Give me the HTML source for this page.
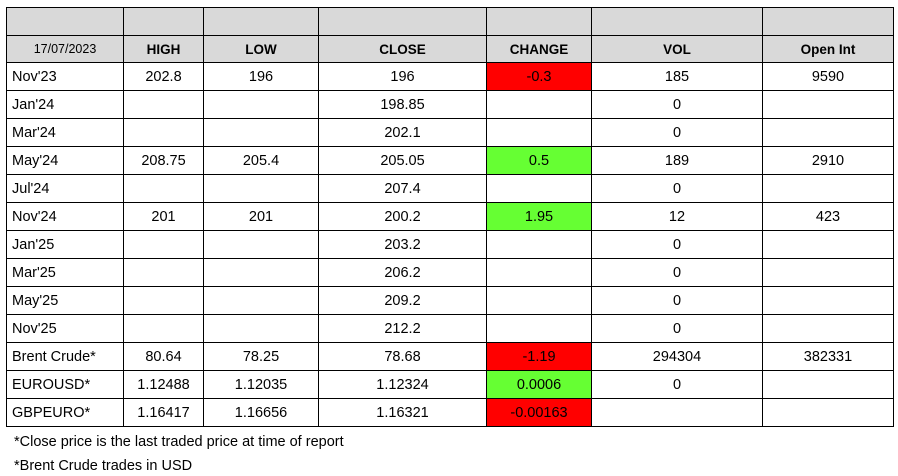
<!DOCTYPE html>
<html><head><meta charset="utf-8"><style>
body{margin:0;width:898px;height:476px;background:#fff;position:relative;overflow:hidden;font-family:"Liberation Sans",Arial,sans-serif;}
table{position:absolute;left:6px;top:7px;border-collapse:collapse;table-layout:fixed;}
td{border:1.5px solid #000;padding:0;height:26px;font-size:14.5px;text-align:center;color:#000;white-space:nowrap;}
tr.g td{background:#d9d9d9;}
tr.h td{font-weight:bold;font-size:13.5px;}
td.l{text-align:left;padding-left:5px;}
.r{background:#ff0000;}
.gr{background:#66ff33;}
.n{position:absolute;left:14px;font-size:14.5px;}
</style></head><body>
<table>
<colgroup><col style="width:117px"><col style="width:80px"><col style="width:115px"><col style="width:168px"><col style="width:105px"><col style="width:171px"><col style="width:131px"></colgroup>
<tr class="g" style="height:28px"><td></td><td></td><td></td><td></td><td></td><td></td><td></td></tr>
<tr class="g h" style="height:27px"><td style="font-weight:normal;font-size:12.5px">17/07/2023</td><td>HIGH</td><td>LOW</td><td>CLOSE</td><td>CHANGE</td><td>VOL</td><td>Open Int</td></tr>
<tr style="height:28px"><td class="l">Nov'23</td><td>202.8</td><td>196</td><td>196</td><td class="r">-0.3</td><td>185</td><td>9590</td></tr>
<tr style="height:28px"><td class="l">Jan'24</td><td></td><td></td><td>198.85</td><td></td><td>0</td><td></td></tr>
<tr style="height:28px"><td class="l">Mar'24</td><td></td><td></td><td>202.1</td><td></td><td>0</td><td></td></tr>
<tr style="height:28px"><td class="l">May'24</td><td>208.75</td><td>205.4</td><td>205.05</td><td class="gr">0.5</td><td>189</td><td>2910</td></tr>
<tr style="height:28px"><td class="l">Jul'24</td><td></td><td></td><td>207.4</td><td></td><td>0</td><td></td></tr>
<tr style="height:28px"><td class="l">Nov'24</td><td>201</td><td>201</td><td>200.2</td><td class="gr">1.95</td><td>12</td><td>423</td></tr>
<tr style="height:28px"><td class="l">Jan'25</td><td></td><td></td><td>203.2</td><td></td><td>0</td><td></td></tr>
<tr style="height:28px"><td class="l">Mar'25</td><td></td><td></td><td>206.2</td><td></td><td>0</td><td></td></tr>
<tr style="height:28px"><td class="l">May'25</td><td></td><td></td><td>209.2</td><td></td><td>0</td><td></td></tr>
<tr style="height:28px"><td class="l">Nov'25</td><td></td><td></td><td>212.2</td><td></td><td>0</td><td></td></tr>
<tr style="height:28px"><td class="l">Brent Crude*</td><td>80.64</td><td>78.25</td><td>78.68</td><td class="r">-1.19</td><td>294304</td><td>382331</td></tr>
<tr style="height:28px"><td class="l">EUROUSD*</td><td>1.12488</td><td>1.12035</td><td>1.12324</td><td class="gr">0.0006</td><td>0</td><td></td></tr>
<tr style="height:28px"><td class="l">GBPEURO*</td><td>1.16417</td><td>1.16656</td><td>1.16321</td><td class="r">-0.00163</td><td></td><td></td></tr>
</table>
<div class="n" style="top:434px">*Close price is the last traded price at time of report</div>
<div class="n" style="top:458px">*Brent Crude trades in USD</div>
</body></html>
